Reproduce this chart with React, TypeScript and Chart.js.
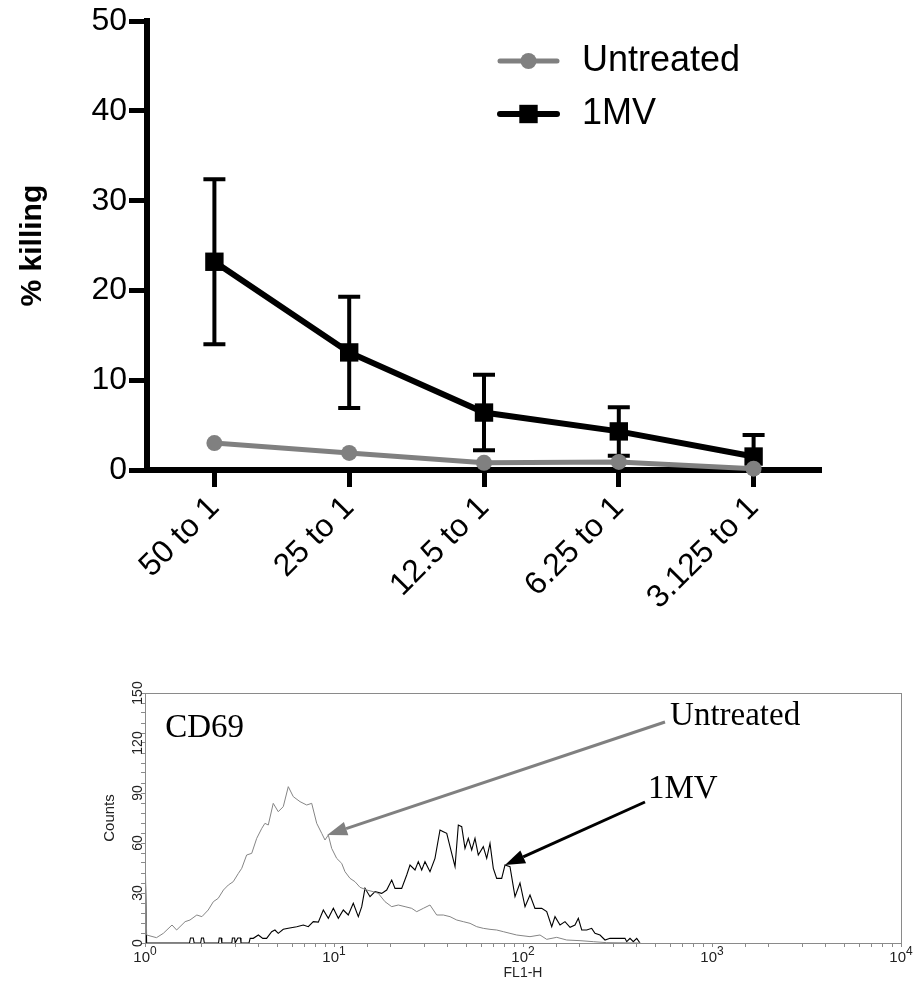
import React, { useEffect, useRef } from 'react';
import { Chart, registerables } from 'chart.js';

Chart.register(...registerables);

const SANS = '"Liberation Sans", Arial, Helvetica, sans-serif';
const SERIF = '"Liberation Serif", "Times New Roman", serif';

// ---- Top chart data ----
const ratioLabels = ['50 to 1', '25 to 1', '12.5 to 1', '6.25 to 1', '3.125 to 1'];
const untreatedKilling = [3.0, 1.9, 0.8, 0.9, 0.15];
const mvKilling = [23.2, 13.1, 6.4, 4.3, 1.5];
const mvKillingError = [9.2, 6.2, 4.2, 2.7, 2.4];
const killingMin = 0;
const killingMax = 50;
const killingStep = 10;
const seriesNames = ['Untreated', '1MV'];

// ---- Histogram data (FL1-H channel value, counts) ----
const untreatedFL1 = [1.0, 1.02, 1.15, 1.25, 1.39, 1.47, 1.63, 1.73, 1.88, 2.0, 2.16, 2.3, 2.44, 2.6, 2.76, 2.93, 3.12, 3.25, 3.45, 3.67, 3.9, 4.15, 4.31, 4.49, 4.77, 5.07, 5.39, 5.73, 6.09, 6.61, 7.17, 7.62, 8.1, 8.61, 8.96, 9.33, 9.72, 10.33, 10.98, 11.43, 12.15, 12.91, 13.73, 14.89, 16.14, 17.15, 18.61, 20.2, 21.89, 23.76, 25.77, 27.39, 29.69, 32.2, 34.95, 37.88, 41.1, 44.6, 48.32, 52.44, 56.89, 61.65, 66.9, 72.58, 78.66, 85.34, 92.6, 108.9, 123, 133.5, 150.8, 170.3, 200.3, 235.5, 277.4, 416];
const untreatedCounts = [58, 4.8, 3.2, 5.8, 10.8, 7.8, 12.8, 13.8, 16.8, 15.8, 19.8, 24.8, 26.8, 31.8, 34.8, 36.8, 41.8, 44.8, 52.8, 53.8, 62.8, 68.8, 71.8, 70.8, 83.8, 78.8, 81.8, 93.8, 87.8, 84.8, 82.8, 83.8, 71.8, 65.8, 61.8, 64.8, 56.8, 50.8, 47.8, 42.8, 38.8, 36.8, 33.4, 31.8, 30.8, 29.8, 24.8, 21.8, 22.8, 21.8, 20.8, 18.8, 20.8, 22.8, 16.8, 16.8, 15.8, 13.8, 12.8, 11.8, 9.8, 8.8, 8.2, 7.8, 6.8, 5.8, 4.8, 3.8, 4.8, 2.2, 3.4, 1.8, 1.4, 0.8, 0.2, 0];

const mvFL1 = [1.0, 1.02, 1.72, 1.74, 1.8, 1.82, 1.97, 1.99, 2.04, 2.06, 2.45, 2.47, 2.53, 2.55, 2.88, 2.9, 2.98, 3.0, 3.1, 3.2, 3.22, 3.55, 3.6, 3.74, 3.98, 4.2, 4.4, 4.68, 4.87, 5.07, 5.39, 5.73, 6.35, 6.88, 7.31, 7.77, 8.26, 8.78, 9.33, 9.92, 10.54, 11.2, 11.9, 12.65, 13.45, 14.02, 14.59, 15.51, 16.48, 17.88, 19.0, 20.2, 21.03, 22.81, 24.25, 25.24, 26.83, 27.93, 29.11, 30.3, 32.2, 34.22, 36.38, 37.88, 39.49, 41.1, 43.69, 45.48, 47.4, 49.33, 51.36, 53.53, 55.72, 58.0, 61.65, 64.26, 66.9, 69.65, 72.58, 77.14, 80.3, 85.34, 90.71, 96.4, 102.5, 108.9, 115.7, 125.6, 133.5, 141.9, 147.7, 157, 166.8, 177.4, 188.4, 196.2, 204.5, 217.3, 230.9, 240.4, 255.5, 271.6, 288.6, 346.5, 353.8, 368.3, 383.4, 399.6, 416];
const mvCounts = [50, 0, 0, 3, 3, 0, 0, 3, 3, 0, 0, 3, 3, 0, 0, 3, 3, 0, 3, 3, 0, 0, 2.8, 2.8, 4.8, 2.8, 2.8, 6.8, 7.8, 5.8, 8.2, 8.8, 9.8, 10.8, 9.8, 12.8, 12.5, 19.8, 14.8, 20.8, 14.8, 19.8, 16.8, 23.8, 15.8, 21.8, 32.8, 27.8, 30.8, 29.8, 31.8, 37.8, 32.8, 32.8, 40.8, 46.8, 43.8, 48.8, 43.8, 48.8, 42.8, 50.8, 67.8, 66.8, 65.8, 57.8, 45.8, 70.8, 69.8, 56.8, 62.8, 55.8, 62.8, 52.8, 57.8, 50.8, 59.8, 44.8, 38.8, 38.8, 46.8, 45.8, 27.8, 36, 21.8, 28.8, 20.8, 20.8, 18.8, 9.8, 15.8, 10.8, 12.8, 9.4, 10.8, 14.8, 7.8, 7.8, 8.8, 5.8, 4.8, 1.8, 2.8, 2.8, 0.8, 2.8, 0.8, 2.8, 0];

const countMin = 0;
const countMax = 150;
const countMinorStep = 6;
const countTickLabels = [0, 30, 60, 90, 120, 150];
const decadeTicks = [1, 10, 100, 1000, 10000];
const decadeExponents = ['0', '1', '2', '3', '4'];

// Histogram annotations (anchored in data space)
const panelTag = 'CD69';
const panelTagFL1 = 1.28;
const panelTagCount = 123.6;
const noteLabels = ['Untreated', '1MV'];
const noteColors = ['#808080', '#000000'];
const noteTextFL1 = [600, 458];
const noteTextCount = [130.6, 87];
const arrowFromFL1 = [564, 442];
const arrowFromCount = [132.6, 84.6];
const arrowToFL1 = [9.2, 80.3];
const arrowToCount = [64.8, 46.8];

const errorBarPlugin = {
  id: 'errorBars',
  beforeDatasetsDraw(chart: any) {
    const { ctx } = chart;
    const yScale = chart.scales.y;
    chart.data.datasets.forEach((ds: any, i: number) => {
      if (!ds.errorBars) return;
      const meta = chart.getDatasetMeta(i);
      ctx.save();
      ctx.strokeStyle = ds.borderColor;
      ctx.lineWidth = 4;
      ctx.lineCap = 'butt';
      meta.data.forEach((pt: any, j: number) => {
        const v = ds.data[j];
        const e = ds.errorBars[j];
        const yTop = yScale.getPixelForValue(Math.min(v + e, yScale.max));
        const yBot = yScale.getPixelForValue(Math.max(v - e, yScale.min));
        ctx.beginPath();
        ctx.moveTo(pt.x, yTop);
        ctx.lineTo(pt.x, yBot);
        ctx.moveTo(pt.x - 11, yTop);
        ctx.lineTo(pt.x + 11, yTop);
        ctx.moveTo(pt.x - 11, yBot);
        ctx.lineTo(pt.x + 11, yBot);
        ctx.stroke();
      });
      ctx.restore();
    });
  },
};

const lineLegendPlugin = {
  id: 'lineLegend',
  afterDraw(chart: any) {
    const { ctx } = chart;
    const x0 = 500;
    const x1 = 557;
    chart.data.datasets.forEach((ds: any, i: number) => {
      const y = 61 + i * 53;
      const xm = (x0 + x1) / 2;
      ctx.save();
      ctx.strokeStyle = ds.borderColor;
      ctx.lineWidth = ds.borderWidth;
      ctx.lineCap = 'round';
      ctx.beginPath();
      ctx.moveTo(x0, y);
      ctx.lineTo(x1, y);
      ctx.stroke();
      ctx.fillStyle = ds.pointBackgroundColor;
      if (ds.pointStyle === 'rect') {
        const s = Math.SQRT1_2 * ds.pointRadius;
        ctx.fillRect(xm - s, y - s, 2 * s, 2 * s);
      } else {
        ctx.beginPath();
        ctx.arc(xm, y, ds.pointRadius, 0, Math.PI * 2);
        ctx.fill();
      }
      ctx.fillStyle = '#000';
      ctx.font = `36px ${SANS}`;
      ctx.textBaseline = 'middle';
      ctx.textAlign = 'left';
      ctx.fillText(ds.label, 582, y);
      ctx.restore();
    });
  },
};

function drawArrow(ctx: CanvasRenderingContext2D, fx: number, fy: number, tx: number, ty: number, color: string) {
  const ang = Math.atan2(ty - fy, tx - fx);
  const headLen = 20;
  const headW = 7;
  const bx = tx - headLen * Math.cos(ang);
  const by = ty - headLen * Math.sin(ang);
  ctx.save();
  ctx.strokeStyle = color;
  ctx.fillStyle = color;
  ctx.lineWidth = 3;
  ctx.beginPath();
  ctx.moveTo(fx, fy);
  ctx.lineTo(bx, by);
  ctx.stroke();
  ctx.beginPath();
  ctx.moveTo(tx, ty);
  ctx.lineTo(bx + headW * Math.sin(ang), by - headW * Math.cos(ang));
  ctx.lineTo(bx - headW * Math.sin(ang), by + headW * Math.cos(ang));
  ctx.closePath();
  ctx.fill();
  ctx.restore();
}

const histDecorPlugin = {
  id: 'histDecor',
  afterDraw(chart: any) {
    const { ctx, chartArea } = chart;
    const xs = chart.scales.x;
    const ys = chart.scales.y;
    ctx.save();
    // frame
    ctx.strokeStyle = '#8a8a8a';
    ctx.lineWidth = 1;
    ctx.strokeRect(Math.round(chartArea.left) + 0.5, Math.round(chartArea.top) + 0.5, Math.round(chartArea.right - chartArea.left), Math.round(chartArea.bottom - chartArea.top));
    // y tick labels (rotated)
    ctx.fillStyle = '#222';
    ctx.font = `14px ${SANS}`;
    ctx.textAlign = 'center';
    ctx.textBaseline = 'middle';
    countTickLabels.forEach((v) => {
      const py = ys.getPixelForValue(v);
      ctx.save();
      ctx.translate(chartArea.left - 7, py);
      ctx.rotate(-Math.PI / 2);
      ctx.fillText(String(v), 0, 0);
      ctx.restore();
    });
    // y title
    ctx.save();
    ctx.font = `15px ${SANS}`;
    ctx.translate(chartArea.left - 35, (chartArea.top + chartArea.bottom) / 2);
    ctx.rotate(-Math.PI / 2);
    ctx.fillText('Counts', 0, 0);
    ctx.restore();
    // x tick labels 10^n
    ctx.textBaseline = 'alphabetic';
    ctx.textAlign = 'left';
    decadeTicks.forEach((v, i) => {
      const px = xs.getPixelForValue(v);
      ctx.font = `15px ${SANS}`;
      const wBase = ctx.measureText('10').width;
      ctx.font = `12px ${SANS}`;
      const wExp = ctx.measureText(decadeExponents[i]).width;
      const start = px - (wBase + wExp) / 2;
      const base = chartArea.bottom + 19;
      ctx.font = `15px ${SANS}`;
      ctx.fillText('10', start, base);
      ctx.font = `12px ${SANS}`;
      ctx.fillText(decadeExponents[i], start + wBase, base - 7);
    });
    // x title
    ctx.font = `14px ${SANS}`;
    ctx.textAlign = 'center';
    ctx.fillText('FL1-H', (chartArea.left + chartArea.right) / 2, chartArea.bottom + 34);
    // panel tag
    ctx.font = `33px ${SERIF}`;
    ctx.textAlign = 'left';
    ctx.fillStyle = '#000';
    ctx.fillText(panelTag, xs.getPixelForValue(panelTagFL1), ys.getPixelForValue(panelTagCount));
    // arrows + notes
    noteLabels.forEach((label, i) => {
      drawArrow(
        ctx,
        xs.getPixelForValue(arrowFromFL1[i]),
        ys.getPixelForValue(arrowFromCount[i]),
        xs.getPixelForValue(arrowToFL1[i]),
        ys.getPixelForValue(arrowToCount[i]),
        noteColors[i]
      );
      ctx.fillStyle = '#000';
      ctx.font = `33px ${SERIF}`;
      ctx.textAlign = 'left';
      ctx.textBaseline = 'alphabetic';
      ctx.fillText(label, xs.getPixelForValue(noteTextFL1[i]), ys.getPixelForValue(noteTextCount[i]));
    });
    ctx.restore();
  },
};

function KillingChart() {
  const ref = useRef<HTMLCanvasElement>(null);
  useEffect(() => {
    if (!ref.current) return;
    const chart = new Chart(ref.current, {
      type: 'line',
      data: {
        labels: ratioLabels,
        datasets: [
          {
            label: seriesNames[0],
            data: untreatedKilling,
            borderColor: '#808080',
            backgroundColor: '#808080',
            pointBackgroundColor: '#808080',
            borderWidth: 5,
            pointStyle: 'circle',
            pointRadius: 8,
            pointBorderWidth: 0,
            pointHoverRadius: 8,
            clip: false,
          } as any,
          {
            label: seriesNames[1],
            data: mvKilling,
            errorBars: mvKillingError,
            borderColor: '#000000',
            backgroundColor: '#000000',
            pointBackgroundColor: '#000000',
            borderWidth: 6,
            pointStyle: 'rect',
            pointRadius: 13,
            pointBorderWidth: 0,
            pointHoverRadius: 13,
            clip: false,
          } as any,
        ],
      },
      options: {
        responsive: false,
        animation: false,
        events: [],
        layout: { padding: { top: 20, right: 97, left: 0, bottom: 0 } },
        plugins: { legend: { display: false }, tooltip: { enabled: false } },
        scales: {
          x: {
            type: 'category',
            offset: true,
            grid: { drawOnChartArea: false, drawTicks: true, tickLength: 17, tickWidth: 5, tickColor: '#000' },
            border: { display: true, color: '#000', width: 6 },
            ticks: { color: '#000', font: { family: SANS, size: 32 }, minRotation: 45, maxRotation: 45, padding: 2, autoSkip: false },
            afterFit: (s: any) => { s.height = 180; },
          },
          y: {
            min: killingMin,
            max: killingMax,
            ticks: { stepSize: killingStep, color: '#000', font: { family: SANS, size: 32 }, padding: 2 },
            grid: { drawOnChartArea: false, drawTicks: true, tickLength: 18, tickWidth: 5, tickColor: '#000' },
            border: { display: true, color: '#000', width: 6 },
            title: { display: true, text: '% killing', color: '#000', font: { family: SANS, size: 30, weight: 'bold' }, padding: { top: 15, bottom: 0 } },
            afterFit: (s: any) => { s.width = 147; },
          },
        },
      } as any,
      plugins: [errorBarPlugin, lineLegendPlugin],
    });
    return () => chart.destroy();
  }, []);
  return <canvas ref={ref} width={918} height={650} style={{ position: 'absolute', left: 0, top: 0, display: 'block' }} />;
}

function HistogramChart() {
  const ref = useRef<HTMLCanvasElement>(null);
  useEffect(() => {
    if (!ref.current) return;
    const chart = new Chart(ref.current, {
      type: 'line',
      data: {
        datasets: [
          {
            label: seriesNames[0],
            data: untreatedFL1.map((x, i) => ({ x, y: untreatedCounts[i] })),
            borderColor: '#858585',
            borderWidth: 1,
            pointRadius: 0,
            tension: 0,
            fill: false,
          },
          {
            label: seriesNames[1],
            data: mvFL1.map((x, i) => ({ x, y: mvCounts[i] })),
            borderColor: '#000000',
            borderWidth: 1.1,
            pointRadius: 0,
            tension: 0,
            fill: false,
          },
        ],
      },
      options: {
        responsive: false,
        animation: false,
        events: [],
        layout: { padding: { top: 33, right: 17, left: 0, bottom: 0 } },
        plugins: { legend: { display: false }, tooltip: { enabled: false } },
        scales: {
          x: {
            type: 'logarithmic',
            min: decadeTicks[0],
            max: decadeTicks[decadeTicks.length - 1],
            grid: { drawOnChartArea: false, drawTicks: true, tickLength: 4, color: '#8a8a8a' },
            border: { display: true, color: '#8a8a8a', width: 1 },
            ticks: { display: false, autoSkip: false },
            afterFit: (s: any) => { s.height = 40; },
          },
          y: {
            type: 'linear',
            min: countMin,
            max: countMax,
            grid: { drawOnChartArea: false, drawTicks: true, tickLength: 4, color: '#8a8a8a' },
            border: { display: true, color: '#8a8a8a', width: 1 },
            ticks: { display: false, stepSize: countMinorStep, autoSkip: false },
            afterFit: (s: any) => { s.width = 145; },
          },
        },
      } as any,
      plugins: [histDecorPlugin],
    });
    return () => chart.destroy();
  }, []);
  return <canvas ref={ref} width={918} height={323} style={{ position: 'absolute', left: 0, top: 660, display: 'block' }} />;
}

export default function App() {
  return (
    <div style={{ position: 'absolute', left: 0, top: 0, width: 918, height: 983, background: '#fff', overflow: 'hidden' }}>
      <KillingChart />
      <HistogramChart />
    </div>
  );
}
